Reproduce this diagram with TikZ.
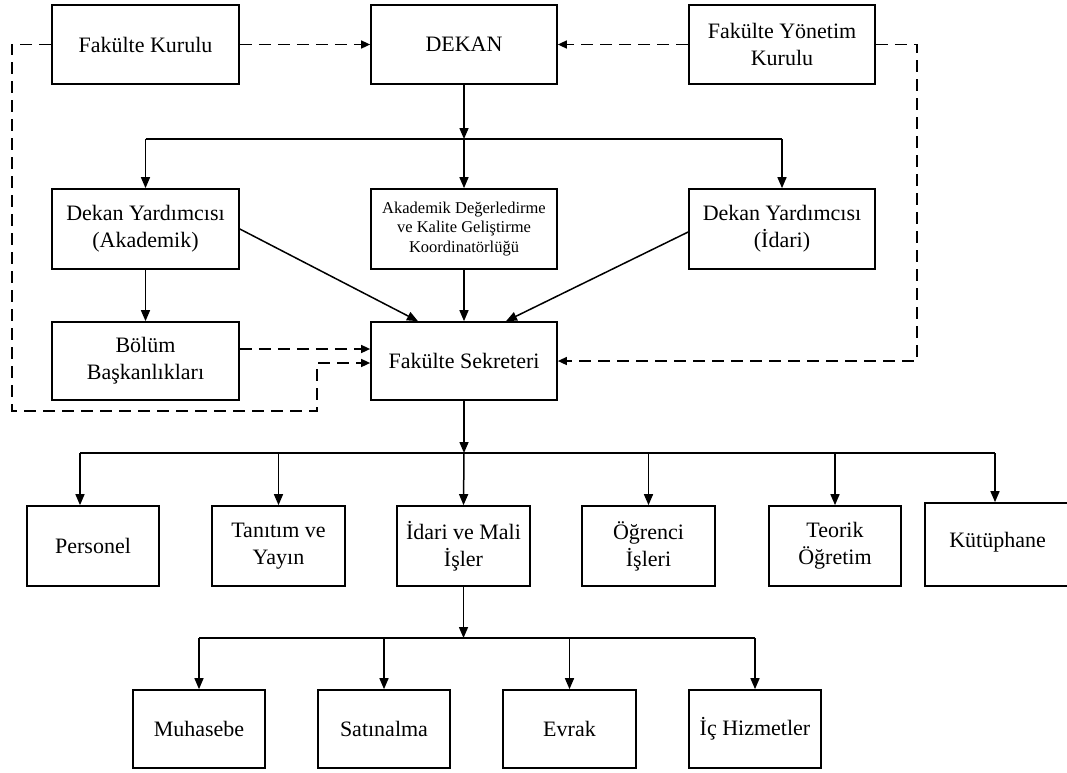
\documentclass[tikz,border=0pt]{standalone}
\usepackage{fontspec}
\setmainfont{Liberation Serif}
\usetikzlibrary{arrows.meta,calc}
\begin{document}
\begin{tikzpicture}[x=1pt,y=-1pt,
 box/.style={draw,line width=1.7pt,inner sep=0pt,align=center,font=\fontsize{22}{27}\selectfont},
 arr/.style={line width=1.5pt,-{Triangle[length=11pt,width=9pt]}},
 ln/.style={line width=1.5pt},
 darr/.style={line width=1.5pt,dash pattern=on 12pt off 7pt,-{Triangle[length=9pt,width=8pt]}},
 dln/.style={line width=1.5pt,dash pattern=on 12pt off 7pt}]
\useasboundingbox (0,0) rectangle (1067,772);
% row 1
\node[box,minimum width=187pt,minimum height=79pt] (fk) at (145.5,44.5) {Fakülte Kurulu};
\node[box,minimum width=186pt,minimum height=79pt] (dekan) at (464,44.5) {DEKAN};
\node[box,minimum width=186pt,minimum height=79pt] (fyk) at (782,44.5) {Fakülte Yönetim\\Kurulu};
% row 2
\node[box,minimum width=187pt,minimum height=80pt] (dya) at (145.5,229) {Dekan Yardımcısı\\(Akademik)};
\node[box,minimum width=186pt,minimum height=80pt,font=\fontsize{16.5}{19.5}\selectfont] (adkg) at (464,229) {Akademik Değerledirme\\ve Kalite Geliştirme\\Koordinatörlüğü};
\node[box,minimum width=186pt,minimum height=80pt] (dyi) at (782,229) {Dekan Yardımcısı\\(İdari)};
% row 3
\node[box,minimum width=187pt,minimum height=78pt] (bolum) at (145.5,361) {Bölüm\\Başkanlıkları};
\node[box,minimum width=186pt,minimum height=78pt] (fs) at (464,361) {Fakülte Sekreteri};
% row 4
\node[box,minimum width=132pt,minimum height=80pt] (pers) at (93,546) {Personel};
\node[box,minimum width=133pt,minimum height=80pt] (tan) at (278.5,546) {Tanıtım ve\\Yayın};
\node[box,minimum width=133pt,minimum height=80pt] (idari) at (463.5,546) {İdari ve Mali\\İşler};
\node[box,minimum width=133pt,minimum height=80pt] (ogr) at (648.5,546) {Öğrenci\\İşleri};
\node[box,minimum width=132pt,minimum height=80pt] (teo) at (835,546) {Teorik\\Öğretim};
\node[box,minimum width=145pt,minimum height=83pt,text depth=10pt] (kut) at (997.5,544.5) {Kütüphane};
% row 5
\node[box,minimum width=132pt,minimum height=78pt] (muh) at (199,729) {Muhasebe};
\node[box,minimum width=132pt,minimum height=78pt] (sat) at (384,729) {Satınalma};
\node[box,minimum width=133pt,minimum height=78pt] (evr) at (569.5,729) {Evrak};
\node[box,minimum width=132pt,minimum height=78pt] (ic) at (755,729) {İç Hizmetler};
% junction coordinates
\coordinate (j1) at (464,139);
\coordinate (j2) at (464,453);
\coordinate (j3) at (463.5,638);
\coordinate (lc1) at (12,411);
\coordinate (lc2) at (317,411);
\coordinate (rc) at (917,361);
% top tree
\draw[arr] (dekan.south) -- (j1);
\draw[ln] (dya.north |- j1) -- (dyi.north |- j1);
\draw[arr] (dya.north |- j1) -- (dya.north);
\draw[arr] (j1) -- (adkg.north);
\draw[arr] (dyi.north |- j1) -- (dyi.north);
\draw[arr] (dya.south) -- (bolum.north);
\draw[arr] (adkg.south) -- (fs.north);
\draw[arr] (dya.east) -- ([xshift=-46pt]fs.north);
\draw[arr] ([yshift=-3pt]dyi.west) -- ([xshift=42pt]fs.north);
% dashed
\draw[darr] (fk.east) -- (dekan.west);
\draw[darr] (fyk.west) -- (dekan.east);
\draw[darr] ([yshift=12pt]bolum.east) -- ([yshift=12pt]fs.west);
\draw[darr] (fk.west) -| (lc1) -- (lc2) |- ([yshift=-2pt]fs.west);
\draw[darr] (fyk.east) -| (rc) -- (fs.east);
% middle tree
\draw[arr] (fs.south) -- (j2);
\coordinate (pa) at ([xshift=-13pt]pers.north);
\coordinate (ka) at ([xshift=-2.5pt]kut.north);
\draw[ln] (pa |- j2) -- (ka |- j2);
\draw[arr] (pa |- j2) -- (pa);
\draw[arr] (tan.north |- j2) -- (tan.north);
\draw[arr] (j2) -- (idari.north);
\draw[arr] (ogr.north |- j2) -- (ogr.north);
\draw[arr] (teo.north |- j2) -- (teo.north);
\draw[arr] (ka |- j2) -- (ka);
% bottom tree
\draw[arr] (idari.south) -- (j3);
\draw[ln] (muh.north |- j3) -- (ic.north |- j3);
\draw[arr] (muh.north |- j3) -- (muh.north);
\draw[arr] (sat.north |- j3) -- (sat.north);
\draw[arr] (evr.north |- j3) -- (evr.north);
\draw[arr] (ic.north |- j3) -- (ic.north);
\end{tikzpicture}
\end{document}
